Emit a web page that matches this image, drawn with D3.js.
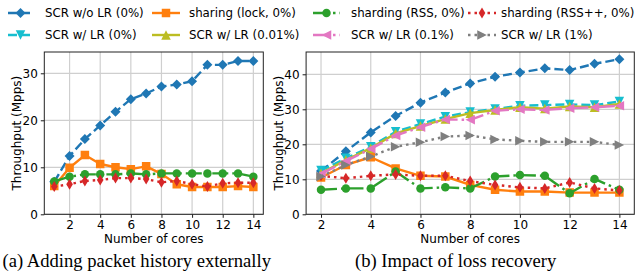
<!DOCTYPE html>
<html><head><meta charset="utf-8">
<script src="https://cdn.jsdelivr.net/npm/d3@7"></script>
<style>body{margin:0;background:#fff}svg{display:block}text{font-family:"DejaVu Sans",sans-serif}text.cap{font-family:"Liberation Serif","Times New Roman",serif}</style>
</head><body>
<script>
// ---------- data ----------
const coresA = [1,2,3,4,5,6,7,8,9,10,11,12,13,14];
const coresB = [2,3,4,5,6,7,8,9,10,11,12,13,14];
const xTicks = [2,4,6,8,10,12,14];
const yTicksA = [0,10,20,30];
const yTicksB = [0,10,20,30,40];

// (a) Adding packet history externally
const a_scrNoLR   = [6.9,12.4,16.0,18.9,21.8,24.5,25.7,27.2,27.6,28.3,31.8,31.8,32.6,32.6];
const a_sharing   = [6.0,9.9,12.6,10.7,10.0,9.6,10.2,8.6,6.4,5.8,5.8,5.8,6.0,5.8];
const a_rss       = [7.0,8.0,8.5,8.5,8.5,8.7,8.5,8.7,8.7,8.7,8.7,8.7,8.7,8.0];
const a_rsspp     = [5.9,6.4,7.1,7.3,7.7,7.7,7.5,6.8,7.1,6.4,5.9,6.6,6.7,6.7];

// (b) Impact of loss recovery
const b_scrNoLR   = [12.4,18.0,23.4,28.1,31.9,34.8,37.4,39.3,40.5,41.7,41.2,43.0,44.3];
const b_sharing   = [10.5,14.1,16.3,13.1,11.0,10.8,8.4,7.0,6.5,6.5,6.2,6.2,6.2];
const b_rss       = [7.0,7.4,7.4,12.2,7.4,7.7,7.4,10.8,11.2,11.0,6.0,10.1,7.0];
const b_rsspp     = [11.0,10.3,11.0,11.4,11.0,11.0,9.5,8.4,7.7,7.4,9.1,7.4,6.8];
const b_lr0       = [12.5,16.0,19.3,23.6,25.8,27.9,29.2,30.1,31.0,31.2,31.4,31.2,32.2];
const b_lr001     = [11.7,15.5,18.9,23.1,25.2,27.2,28.9,29.8,30.6,30.2,30.8,30.6,31.5];
const b_lr01      = [11.5,15.2,18.7,22.5,24.9,27.1,27.0,29.6,30.0,29.8,30.3,30.6,31.0];
const b_lr1       = [10.8,14.1,16.5,19.3,20.6,22.2,22.5,21.4,21.0,20.7,20.7,20.7,19.8];

const seriesNames = ["SCR w/o LR (0%)","sharing (lock, 0%)","sharding (RSS, 0%)","sharding (RSS++, 0%)",
                     "SCR w/ LR (0%)","SCR w/ LR (0.01%)","SCR w/ LR (0.1%)","SCR w/ LR (1%)"];
const colors  = ["#1f77b4","#ff7f0e","#2ca02c","#d62728","#17becf","#bcbd22","#e377c2","#7f7f7f"];
const markers = ["D","s","o","d","v","^","<",">"];
const dashes  = ["9,4","none","16,4,2.5,4","2.5,4","9,4","none","16,4,2.5,4","2.5,4"];

const captions = ["(a) Adding packet history externally","(b) Impact of loss recovery"];

// ---------- drawing ----------
const W = 639, H = 273;
const svg = d3.select("body").append("svg").attr("width",W).attr("height",H);

function markerPath(type, s){
  const h = s/2;
  switch(type){
    case "D": { const r = h*1.0; return `M0,${-r}L${r},0L0,${r}L${-r},0Z`; }
    case "d": { const r = h*1.1, w = r*0.6; return `M0,${-r}L${w},0L0,${r}L${-w},0Z`; }
    case "s": { const r = h*0.85; return `M${-r},${-r}H${r}V${r}H${-r}Z`; }
    case "o": { const r = h*0.85; return `M${r},0A${r},${r} 0 1,1 ${-r},0A${r},${r} 0 1,1 ${r},0Z`; }
    case "v": { const r = h*0.95; return `M${-r},${-r}L${r},${-r}L0,${r}Z`; }
    case "^": { const r = h*0.95; return `M${-r},${r}L${r},${r}L0,${-r}Z`; }
    case "<": { const r = h*0.95; return `M${r},${-r}L${r},${r}L${-r},0Z`; }
    case ">": { const r = h*0.95; return `M${-r},${-r}L${-r},${r}L${r},0Z`; }
  }
}

function panel(cfg){
  const {x0,x1,y0,y1,xDom,yDom,yTicks,series,cores,caption,capX} = cfg;
  const x = d3.scaleLinear().domain(xDom).range([x0,x1]);
  const y = d3.scaleLinear().domain(yDom).range([y1,y0]);
  const g = svg.append("g");
  g.append("g").selectAll("line").data(xTicks).join("line")
    .attr("x1",d=>x(d)).attr("x2",d=>x(d)).attr("y1",y0).attr("y2",y1)
    .attr("stroke","#cfcfcf").attr("stroke-width",1.2);
  g.append("g").selectAll("line").data(yTicks).join("line")
    .attr("x1",x0).attr("x2",x1).attr("y1",d=>y(d)).attr("y2",d=>y(d))
    .attr("stroke","#cfcfcf").attr("stroke-width",1.2);
  const clip = "clip"+Math.round(x0);
  svg.append("clipPath").attr("id",clip).append("rect").attr("x",x0).attr("y",y0).attr("width",x1-x0).attr("height",y1-y0);
  const sg = g.append("g").attr("clip-path",`url(#${clip})`);
  const line = d3.line().x((d,i)=>x(cores[i])).y(d=>y(d));
  series.forEach(s=>{
    const k = s.k;
    sg.append("path").datum(s.v).attr("d",line).attr("fill","none")
      .attr("stroke",colors[k]).attr("stroke-width",2.4)
      .attr("stroke-dasharray",dashes[k]).attr("stroke-linejoin","round");
    sg.append("g").selectAll("path").data(s.v).join("path")
      .attr("transform",(d,i)=>`translate(${x(cores[i])},${y(d)})`)
      .attr("d",markerPath(markers[k],10)).attr("fill",colors[k]);
  });
  const ax = g.append("g").attr("transform",`translate(0,${y1})`)
    .call(d3.axisBottom(x).tickValues(xTicks).tickSize(3.5).tickPadding(3).tickSizeOuter(0));
  const ay = g.append("g").attr("transform",`translate(${x0},0)`)
    .call(d3.axisLeft(y).tickValues(yTicks).tickSize(3.5).tickPadding(3).tickSizeOuter(0));
  [ax,ay].forEach(a=>{a.select(".domain").remove(); a.selectAll("text").attr("font-size",12).attr("fill","#000").attr("font-family","DejaVu Sans");
    a.selectAll("line").attr("stroke","#000").attr("stroke-width",0.9);});
  g.append("rect").attr("x",x0).attr("y",y0).attr("width",x1-x0).attr("height",y1-y0)
    .attr("fill","none").attr("stroke","#222").attr("stroke-width",1);
  g.append("text").attr("x",(x0+x1)/2).attr("y",242.5).attr("text-anchor","middle").attr("font-size",12).text("Number of cores");
  g.append("text").attr("transform",`translate(${x0-23.5},${(y0+y1)/2}) rotate(-90)`).attr("text-anchor","middle").attr("font-size",12).text("Throughput (Mpps)");
  g.append("text").attr("class","cap").attr("x",capX).attr("y",267).attr("font-size",18.6).text(caption);
}

panel({x0:44.3,x1:263.3,y0:52,y1:214.3,xDom:[0.35,14.65],yDom:[0,34.53],yTicks:yTicksA,cores:coresA,
  series:[{k:0,v:a_scrNoLR},{k:1,v:a_sharing},{k:2,v:a_rss},{k:3,v:a_rsspp}],caption:captions[0],capX:2.5});
panel({x0:306.1,x1:634.3,y0:52,y1:214.3,xDom:[1.4,14.6],yDom:[0,46.37],yTicks:yTicksB,cores:coresB,
  series:[{k:0,v:b_scrNoLR},{k:1,v:b_sharing},{k:2,v:b_rss},{k:3,v:b_rsspp},{k:4,v:b_lr0},{k:5,v:b_lr001},{k:6,v:b_lr01},{k:7,v:b_lr1}],
  caption:captions[1],capX:355});

// legend
const legCols = [{h0:8,h1:33,t:45},{h0:152,h1:180,t:189},{h0:313,h1:340,t:351},{h0:468,h1:496,t:501}];
const legRows = [13,35];
const legOrder = [[0,4],[1,5],[2,6],[3,7]];
const lg = svg.append("g");
legOrder.forEach((col,ci)=>{
  col.forEach((k,ri)=>{
    const c = legCols[ci], yy = legRows[ri];
    lg.append("line").attr("x1",c.h0).attr("x2",c.h1).attr("y1",yy).attr("y2",yy)
      .attr("stroke",colors[k]).attr("stroke-width",2.4).attr("stroke-dasharray",dashes[k]);
    lg.append("path").attr("transform",`translate(${(c.h0+c.h1)/2},${yy})`).attr("d",markerPath(markers[k],10)).attr("fill",colors[k]);
    lg.append("text").attr("x",c.t).attr("y",yy).attr("dy","0.36em").attr("font-size",11.8).text(seriesNames[k]);
  });
});
</script>
</body></html>
